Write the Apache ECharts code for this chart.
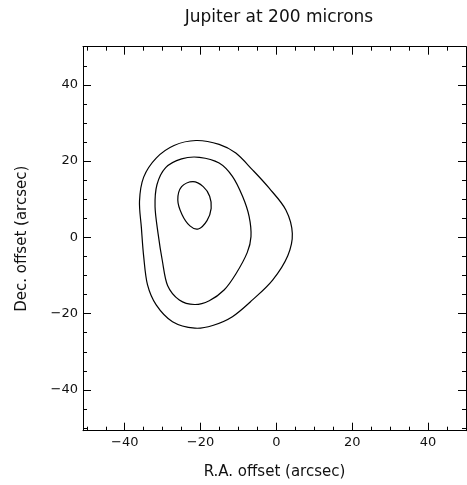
<!DOCTYPE html>
<html>
<head>
<meta charset="utf-8">
<script src="https://cdn.jsdelivr.net/npm/echarts@6/dist/echarts.min.js"></script>
<style>html,body{margin:0;padding:0;background:#fff;}#c{width:467px;height:485px;}</style>
</head>
<body>
<div id="c"></div>
<script>
var titleText = 'Jupiter at 200 microns';
var xName = 'R.A. offset (arcsec)';
var yName = 'Dec. offset (arcsec)';
var majorTicks = [-40, -20, 0, 20, 40];
var minorTicks = [-50, -45, -35, -30, -25, -15, -10, -5, 5, 10, 15, 25, 30, 35, 45, 50];

// closed contour outlines (data units), listed clockwise; first point not repeated
var outerContour = [
  [-21.2, 25.4], [-15.1, 24.4], [-10.7, 22.1], [-6.3, 17.7], [-1.9, 12.9], [2.5, 7.2],
  [4.2, 1.0], [3.0, -4.8], [-1.0, -11.2], [-6.3, -16.4], [-11.6, -20.8],
  [-16.8, -23.1], [-21.5, -23.8], [-27.4, -22.1], [-31.7, -17.7], [-34.0, -12.4],
  [-35.0, -5.0], [-35.6, 2.5], [-36.1, 9.5], [-35.0, 15.8], [-31.7, 20.8],
  [-27.0, 24.1]
];
var middleContour = [
  [-20.3, 21.0], [-15.1, 19.5], [-11.6, 16.0], [-8.9, 10.7], [-7.2, 5.5], [-6.7, 0.2],
  [-7.7, -4.0], [-10.7, -9.6], [-13.8, -13.8], [-17.7, -16.6], [-21.6, -17.6],
  [-25.6, -16.4], [-28.7, -12.6], [-30.1, -6.0], [-31.2, 1.0], [-32.0, 8.0], [-31.5, 13.8],
  [-29.2, 18.3], [-25.0, 20.6]
];
var innerContour = [
  [-22.0, 14.6], [-19.3, 13.3], [-17.6, 10.8], [-17.2, 7.6], [-18.3, 4.4],
  [-20.6, 2.2], [-22.8, 3.0], [-24.9, 6.0], [-26.0, 9.8], [-25.0, 13.3]
];
var contours = [outerContour, middleContour, innerContour];

var xMin = -51, xMax = 50, yMin = -50.7, yMax = 50;
var font = 'DejaVu Sans';
var ink = '#000';
var textInk = '#111';

function fmt(v) { return v < 0 ? '\u2212' + Math.abs(v) : String(v); }

function xAx(grid, pos, major, withLabel) {
  return {
    type: 'value', gridIndex: grid, position: pos, min: xMin, max: xMax,
    name: withLabel ? xName : '', nameLocation: 'middle', nameGap: 34,
    nameTextStyle: { color: textInk, fontFamily: font, fontSize: 15 },
    axisLine: { show: major, onZero: false, lineStyle: { color: ink, width: 1 } },
    axisTick: { show: true, inside: true, length: major ? 8 : 4,
      customValues: major ? majorTicks : minorTicks, lineStyle: { color: ink, width: 1 } },
    axisLabel: { show: withLabel, customValues: majorTicks, formatter: fmt, margin: 5,
      color: textInk, fontFamily: font, fontSize: 13 },
    splitLine: { show: false }
  };
}
function yAx(grid, pos, major, withLabel) {
  return {
    type: 'value', gridIndex: grid, position: pos, min: yMin, max: yMax,
    name: withLabel ? yName : '', nameLocation: 'middle', nameGap: 53, nameRotate: 90,
    nameTextStyle: { color: textInk, fontFamily: font, fontSize: 15 },
    axisLine: { show: major, onZero: false, lineStyle: { color: ink, width: 1 } },
    axisTick: { show: true, inside: true, length: major ? 8 : 4,
      customValues: major ? majorTicks : minorTicks, lineStyle: { color: ink, width: 1 } },
    axisLabel: { show: withLabel, customValues: majorTicks, formatter: fmt, margin: 5,
      color: textInk, fontFamily: font, fontSize: 13 },
    splitLine: { show: false }
  };
}

// smooth closed curve through the contour points (positions from the axis scales)
function closedPath(pts) {
  var n = pts.length, d = '';
  for (var i = 0; i < n; i++) {
    var p0 = pts[(i - 1 + n) % n], p1 = pts[i], p2 = pts[(i + 1) % n], p3 = pts[(i + 2) % n];
    if (i === 0) d += 'M' + p1[0] + ' ' + p1[1];
    var c1x = p1[0] + (p2[0] - p0[0]) / 6, c1y = p1[1] + (p2[1] - p0[1]) / 6;
    var c2x = p2[0] - (p3[0] - p1[0]) / 6, c2y = p2[1] - (p3[1] - p1[1]) / 6;
    d += 'C' + c1x + ' ' + c1y + ' ' + c2x + ' ' + c2y + ' ' + p2[0] + ' ' + p2[1];
  }
  return d + 'Z';
}

var series = contours.map(function (c) {
  return {
    type: 'custom', coordinateSystem: 'cartesian2d', xAxisIndex: 0, yAxisIndex: 0,
    data: c, silent: true, animation: false,
    renderItem: function (params, api) {
      if (params.dataIndex !== 0) return null;
      var pts = c.map(function (p) { return api.coord(p); });
      return {
        type: 'path', shape: { pathData: closedPath(pts) },
        style: { fill: 'none', stroke: ink, lineWidth: 1.2 }
      };
    }
  };
});

var gridBox = { left: 83, top: 46.7, width: 383, height: 384 };
var chart = echarts.init(document.getElementById('c'), null, { renderer: 'canvas' });
chart.setOption({
  animation: false,
  backgroundColor: '#fff',
  title: { text: titleText, left: 274, top: 4, textAlign: 'center',
    textStyle: { color: textInk, fontFamily: font, fontSize: 17, fontWeight: 'normal' } },
  grid: [Object.assign({}, gridBox), Object.assign({}, gridBox)],
  xAxis: [xAx(0, 'bottom', true, true), xAx(0, 'top', true, false),
          xAx(1, 'bottom', false, false), xAx(1, 'top', false, false)],
  yAxis: [yAx(0, 'left', true, true), yAx(0, 'right', true, false),
          yAx(1, 'left', false, false), yAx(1, 'right', false, false)],
  series: series
});
</script>
</body>
</html>
